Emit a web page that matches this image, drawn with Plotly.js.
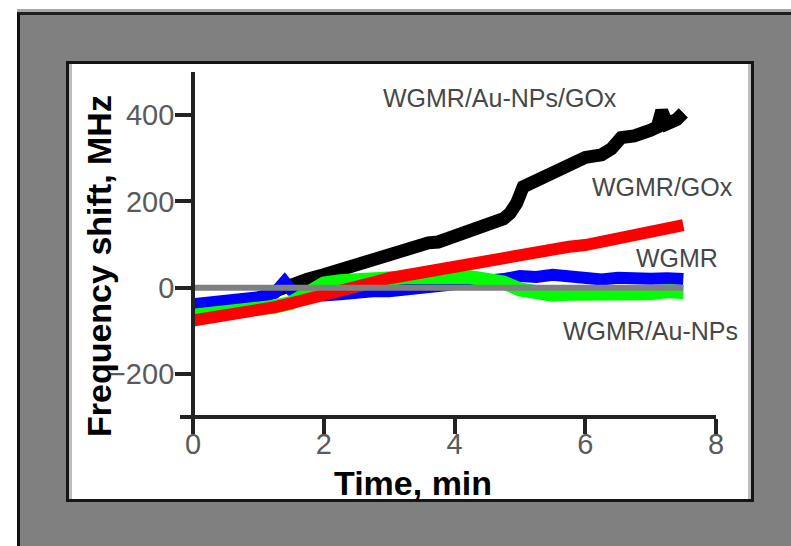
<!DOCTYPE html>
<html>
<head>
<meta charset="utf-8">
<script src="https://cdn.plot.ly/plotly-3.0.1.min.js"></script>
<style>
  html, body { margin: 0; padding: 0; background: #ffffff; width: 791px; height: 546px; overflow: hidden; }
  #frame { position: absolute; left: 17px; top: 12px; width: 800px; height: 560px; background: #808080;
           border-top: 3px solid #1e1e1e; border-left: 3px solid #111111; box-shadow: 0 -3px 0 #a8a8a8; }
  #panel { position: absolute; left: 66px; top: 61px; width: 688px; height: 441px; box-sizing: border-box;
           background: #ffffff; border: 3px solid #151515;
           box-shadow: inset 3px 0 0 #bdbdbd, inset -3px 0 0 #bdbdbd; }
  #chart { position: absolute; left: 0; top: 0; width: 791px; height: 546px; }
</style>
</head>
<body>
<div id="frame"></div>
<div id="panel"></div>
<div id="chart"></div>
<script>
// ---- data (time in min, frequency shift in MHz) ----
const blackTime = [0, 0.25, 0.5, 0.75, 1.0, 1.25, 1.5, 1.63, 1.75, 2.0, 2.25, 2.5, 2.75, 3.0, 3.15, 3.25, 3.5, 3.6, 3.75, 4.0, 4.25, 4.5, 4.75, 4.85, 4.95, 5.05, 5.25, 5.5, 5.75, 6.0, 6.25, 6.4, 6.55, 6.75, 7.0, 7.1, 7.17, 7.25, 7.4, 7.5];
const blackShift = [-50, -45, -40, -32, -25, -8, 8, 18, 20, 30, 42, 53, 63, 76, 84, 84, 95, 104, 106, 118, 130, 143, 160, 173, 196, 234, 248, 268, 285, 302, 308, 322, 348, 352, 365, 372, 410, 380, 390, 405];

const blueTime = [0, 0.25, 0.5, 0.75, 1.0, 1.25, 1.4, 1.5, 1.75, 2.0, 2.25, 2.5, 2.75, 3.0, 3.25, 3.5, 3.75, 4.0, 4.25, 4.5, 4.75, 5.0, 5.25, 5.5, 5.75, 6.0, 6.25, 6.5, 6.75, 7.0, 7.25, 7.5];
const blueShift = [-38, -35, -30, -26, -22, -12, 14, -5, -12, -18, -15, -10, -8, -8, -4, 0, 3, 6, 8, 12, 20, 27, 25, 30, 24, 22, 19, 23, 19, 21, 22, 20];

const greenTime = [0, 0.25, 0.5, 0.75, 1.0, 1.25, 1.5, 1.75, 2.0, 2.25, 2.5, 2.75, 3.0, 3.25, 3.5, 3.75, 4.0, 4.25, 4.5, 4.75, 5.0, 5.25, 5.5, 5.75, 6.0, 6.25, 6.5, 6.75, 7.0, 7.25, 7.5];
const greenShift = [-65, -62, -60, -56, -52, -44, -35, -12, 10, 15, 18, 22, 28, 24, 25, 27, 26, 24, 18, 12, -4, -12, -16, -14, -15, -12, -16, -10, -13, -8, -10];

const redTime = [0, 0.25, 0.5, 0.75, 1.0, 1.25, 1.5, 1.75, 2.0, 2.25, 2.5, 2.75, 3.0, 3.25, 3.5, 3.75, 4.0, 4.25, 4.5, 4.75, 5.0, 5.25, 5.5, 5.75, 6.0, 6.25, 6.5, 6.75, 7.0, 7.25, 7.5];
const redShift = [-76, -71, -66, -60, -54, -45, -36, -25, -14, -5, 3, 12, 22, 29, 36, 43, 50, 56, 62, 71, 80, 86, 91, 95, 99, 107, 115, 124, 134, 139, 145];

const grayTime = [0, 7.5];
const grayShift = [0, 0];

const xTicks = [0, 2, 4, 6, 8];
const yTicks = [-200, 0, 200, 400];
const seriesLabels = ['WGMR/Au-NPs/GOx', 'WGMR/GOx', 'WGMR', 'WGMR/Au-NPs'];
const xTitle = 'Time, min';
const yTitle = 'Frequency shift, MHz';

// ---- chart ----
function lineTrace(x, y, color, width, name) {
  return { x: x, y: y, type: 'scatter', mode: 'lines', name: name,
           line: { color: color, width: width }, hoverinfo: 'skip' };
}

const traces = [
  lineTrace(blackTime, blackShift, '#000000', 13, seriesLabels[0]),
  lineTrace(blueTime, blueShift, '#0000ff', 12, seriesLabels[2]),
  lineTrace(greenTime, greenShift, '#00ff00', 14, seriesLabels[3]),
  lineTrace(redTime, redShift, '#ff0000', 12, seriesLabels[1]),
  lineTrace(grayTime, grayShift, '#808080', 6, 'baseline')
];

const tickFont = { family: 'Liberation Sans, Arial, sans-serif', size: 29, color: '#5a5a5a' };
const titleFont = { family: 'Liberation Sans, Arial, sans-serif', size: 34, color: '#000000', weight: 700 };
const labelFont = { family: 'Liberation Sans, Arial, sans-serif', size: 25, color: '#474747' };

const labelPos = [[4.69, 440], [7.18, 233], [7.40, 69], [7.0, -100]];

const annotations = seriesLabels.map((t, i) => ({
  text: t, x: labelPos[i][0], y: labelPos[i][1], xref: 'x', yref: 'y',
  showarrow: false, xanchor: 'center', yanchor: 'middle', font: labelFont
}));
// axis titles
annotations.push({ text: xTitle, xref: 'paper', yref: 'paper', x: (413 - 180) / 536, y: -(483 - 415) / 343,
  xanchor: 'center', yanchor: 'middle', showarrow: false, font: titleFont });
annotations.push({ text: yTitle, xref: 'paper', yref: 'paper', x: (99 - 180) / 536, y: (415 - 266) / 343,
  xanchor: 'center', yanchor: 'middle', textangle: -90, showarrow: false, font: titleFont });

const layout = {
  width: 791, height: 546,
  paper_bgcolor: 'rgba(0,0,0,0)', plot_bgcolor: 'rgba(0,0,0,0)',
  margin: { l: 180, r: 75, t: 72, b: 131, pad: 0 },
  showlegend: false,
  xaxis: {
    range: [-0.2, 8], tickvals: xTicks, ticktext: xTicks.map(String),
    showline: true, linecolor: '#222222', linewidth: 4,
    ticks: 'outside', ticklen: 15, tickwidth: 4, tickcolor: '#222222',
    ticklabelstandoff: -15,
    showgrid: false, zeroline: false, tickfont: tickFont
  },
  yaxis: {
    range: [-295, 500], tickvals: yTicks, ticktext: yTicks.map(v => v < 0 ? '\u2212' + Math.abs(v) : String(v)),
    anchor: 'free', position: 0.2 / 8.2,
    showline: true, linecolor: '#222222', linewidth: 4,
    ticks: 'outside', ticklen: 16, tickwidth: 4, tickcolor: '#222222',
    ticklabelstandoff: -5,
    showgrid: false, zeroline: false, tickfont: tickFont
  },
  annotations: annotations
};

Plotly.newPlot('chart', traces, layout, { staticPlot: true, displayModeBar: false });
</script>
</body>
</html>
